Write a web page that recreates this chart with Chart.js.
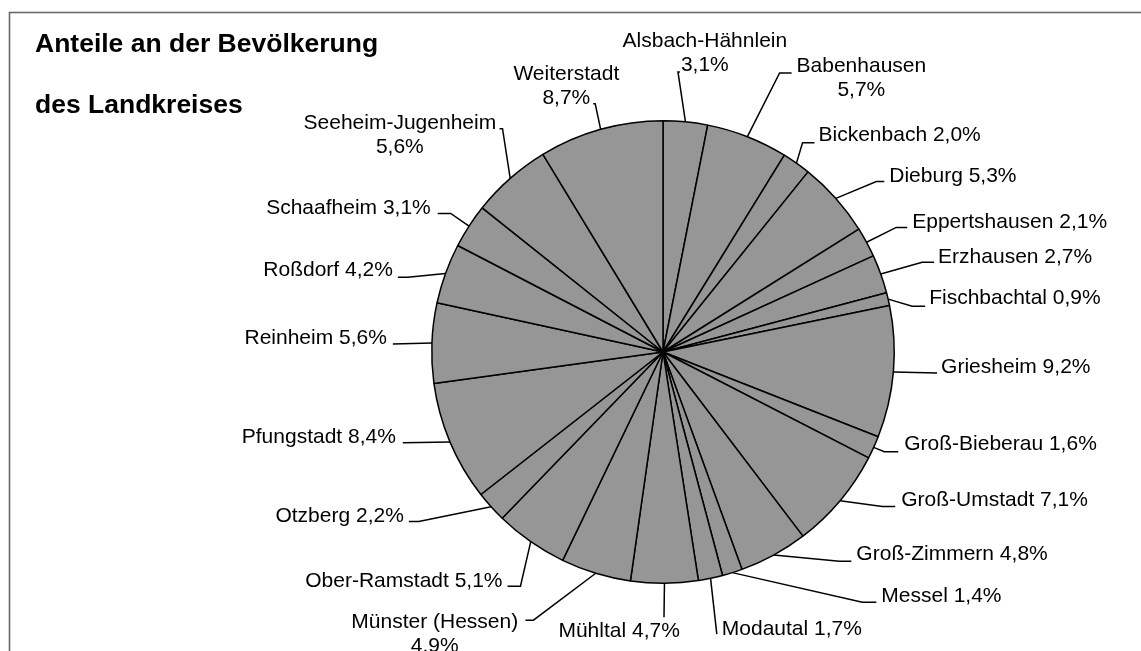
<!DOCTYPE html>
<html>
<head>
<meta charset="utf-8">
<script src="https://cdn.jsdelivr.net/npm/chart.js@4/dist/chart.umd.min.js"></script>
<style>
  html, body { margin: 0; padding: 0; background: #fff; }
  #wrap { width: 1141px; height: 651px; position: relative; }
</style>
</head>
<body>
<div id="wrap"><canvas id="c" width="1141" height="651"></canvas></div>
<script>
// ---- data ----
const titleLines = ['Anteile an der Bevölkerung', 'des Landkreises'];
const municipalities = [
  'Alsbach-Hähnlein', 'Babenhausen', 'Bickenbach', 'Dieburg', 'Eppertshausen',
  'Erzhausen', 'Fischbachtal', 'Griesheim', 'Groß-Bieberau', 'Groß-Umstadt',
  'Groß-Zimmern', 'Messel', 'Modautal', 'Mühltal', 'Münster (Hessen)',
  'Ober-Ramstadt', 'Otzberg', 'Pfungstadt', 'Reinheim', 'Roßdorf',
  'Schaafheim', 'Seeheim-Jugenheim', 'Weiterstadt'
];
const shares = [
  3.1, 5.7, 2.0, 5.3, 2.1,
  2.7, 0.9, 9.2, 1.6, 7.1,
  4.8, 1.4, 1.7, 4.7, 4.9,
  5.1, 2.2, 8.4, 5.6, 4.2,
  3.1, 5.6, 8.7
];

// ---- label layout (offsets from pie centre, px at radius 232) ----
const labelLayout = [
  { two: true,  align: 'center', text: [42, -300],  elbow: [15, -281],  end: [17, -281] },
  { two: true,  align: 'center', text: [199, -275], elbow: [117, -280], end: [129, -280] },
  { two: false, align: 'left',   text: [156, -217], elbow: [140, -210], end: [152, -210] },
  { two: false, align: 'left',   text: [227, -176], elbow: [214, -171], end: [222, -171] },
  { two: false, align: 'left',   text: [250, -130], elbow: [234, -125], end: [245, -125] },
  { two: false, align: 'left',   text: [276, -95],  elbow: [260, -90],  end: [272, -90] },
  { two: false, align: 'left',   text: [267, -54],  elbow: [250, -46],  end: [263, -46] },
  { two: false, align: 'left',   text: [279, 15],   elbow: null,        end: [275, 21] },
  { two: false, align: 'left',   text: [242, 93],   elbow: [222, 100],  end: [236, 100] },
  { two: false, align: 'left',   text: [239, 149],  elbow: [220, 155],  end: [233, 155] },
  { two: false, align: 'left',   text: [194, 203],  elbow: [177, 210],  end: [189, 210] },
  { two: false, align: 'left',   text: [219, 245],  elbow: [200, 251],  end: [214, 251] },
  { two: false, align: 'left',   text: [59, 278],   elbow: null,        end: [54, 283] },
  { two: false, align: 'center', text: [-44, 280],  elbow: null,        end: [1, 266] },
  { two: true,  align: 'center', text: [-229, 283], elbow: [-130, 269], end: [-138, 269] },
  { two: false, align: 'right',  text: [-161, 230], elbow: [-143, 235], end: [-156, 235] },
  { two: false, align: 'right',  text: [-260, 165], elbow: [-245, 170], end: [-255, 170] },
  { two: false, align: 'right',  text: [-268, 85],  elbow: null,        end: [-261, 91] },
  { two: false, align: 'right',  text: [-277, -14], elbow: null,        end: [-271, -8] },
  { two: false, align: 'right',  text: [-271, -82], elbow: [-256, -75], end: [-266, -75] },
  { two: false, align: 'right',  text: [-233, -144],elbow: [-213, -139],end: [-226, -139] },
  { two: true,  align: 'center', text: [-264, -218],elbow: [-161, -224],end: [-164, -224] },
  { two: true,  align: 'center', text: [-97, -267], elbow: [-68, -249], end: [-70, -249] }
];

const LABEL_FONT = '21px "Liberation Sans", Arial, sans-serif';
const TITLE_FONT = 'bold 26.5px "Liberation Sans", Arial, sans-serif';

function fmtPct(v) { return v.toFixed(1).replace('.', ',') + '%'; }

const framePlugin = {
  id: 'frame',
  beforeDraw(chart) {
    const ctx = chart.ctx;
    ctx.save();
    ctx.fillStyle = '#ffffff';
    ctx.fillRect(0, 0, chart.width, chart.height);
    ctx.strokeStyle = '#6a6a6a';
    ctx.lineWidth = 1.6;
    ctx.strokeRect(9.5, 12.5, chart.width + 50, chart.height + 50);
    ctx.fillStyle = '#000';
    ctx.font = TITLE_FONT;
    ctx.textAlign = 'left';
    ctx.textBaseline = 'alphabetic';
    ctx.fillText(titleLines[0], 35, 52);
    ctx.fillText(titleLines[1], 35, 113);
    ctx.restore();
  }
};

const labelPlugin = {
  id: 'sliceLabels',
  afterDatasetsDraw(chart) {
    const ctx = chart.ctx;
    const meta = chart.getDatasetMeta(0);
    ctx.save();
    ctx.font = LABEL_FONT;
    ctx.fillStyle = '#000';
    ctx.strokeStyle = '#000';
    ctx.lineWidth = 1.5;
    ctx.textBaseline = 'middle';
    meta.data.forEach((arc, i) => {
      const p = arc.getProps(['x', 'y', 'startAngle', 'endAngle', 'outerRadius'], true);
      const s = p.outerRadius / 232;
      const mid = (p.startAngle + p.endAngle) / 2;
      const sx = p.x + Math.cos(mid) * p.outerRadius;
      const sy = p.y + Math.sin(mid) * p.outerRadius;
      const L = labelLayout[i];
      ctx.beginPath();
      ctx.moveTo(sx, sy);
      if (L.elbow) ctx.lineTo(p.x + L.elbow[0] * s, p.y + L.elbow[1] * s);
      ctx.lineTo(p.x + L.end[0] * s, p.y + L.end[1] * s);
      ctx.stroke();
      const name = chart.data.labels[i];
      const pct = fmtPct(chart.data.datasets[0].data[i]);
      const lines = L.two ? [name, pct] : [name + ' ' + pct];
      const lh = 24;
      ctx.textAlign = L.align;
      lines.forEach((t, k) => {
        ctx.fillText(t, p.x + L.text[0] * s, p.y + L.text[1] * s + (k - (lines.length - 1) / 2) * lh);
      });
    });
    ctx.restore();
  }
};

new Chart(document.getElementById('c'), {
  type: 'pie',
  data: {
    labels: municipalities,
    datasets: [{
      data: shares,
      backgroundColor: '#969696',
      borderColor: '#000000',
      borderWidth: 1.5
    }]
  },
  options: {
    responsive: false,
    animation: false,
    devicePixelRatio: 1,
    layout: { padding: { left: 431, top: 120, right: 246, bottom: 67 } },
    plugins: {
      legend: { display: false },
      tooltip: { enabled: false },
      title: { display: false }
    }
  },
  plugins: [framePlugin, labelPlugin]
});
</script>
</body>
</html>
